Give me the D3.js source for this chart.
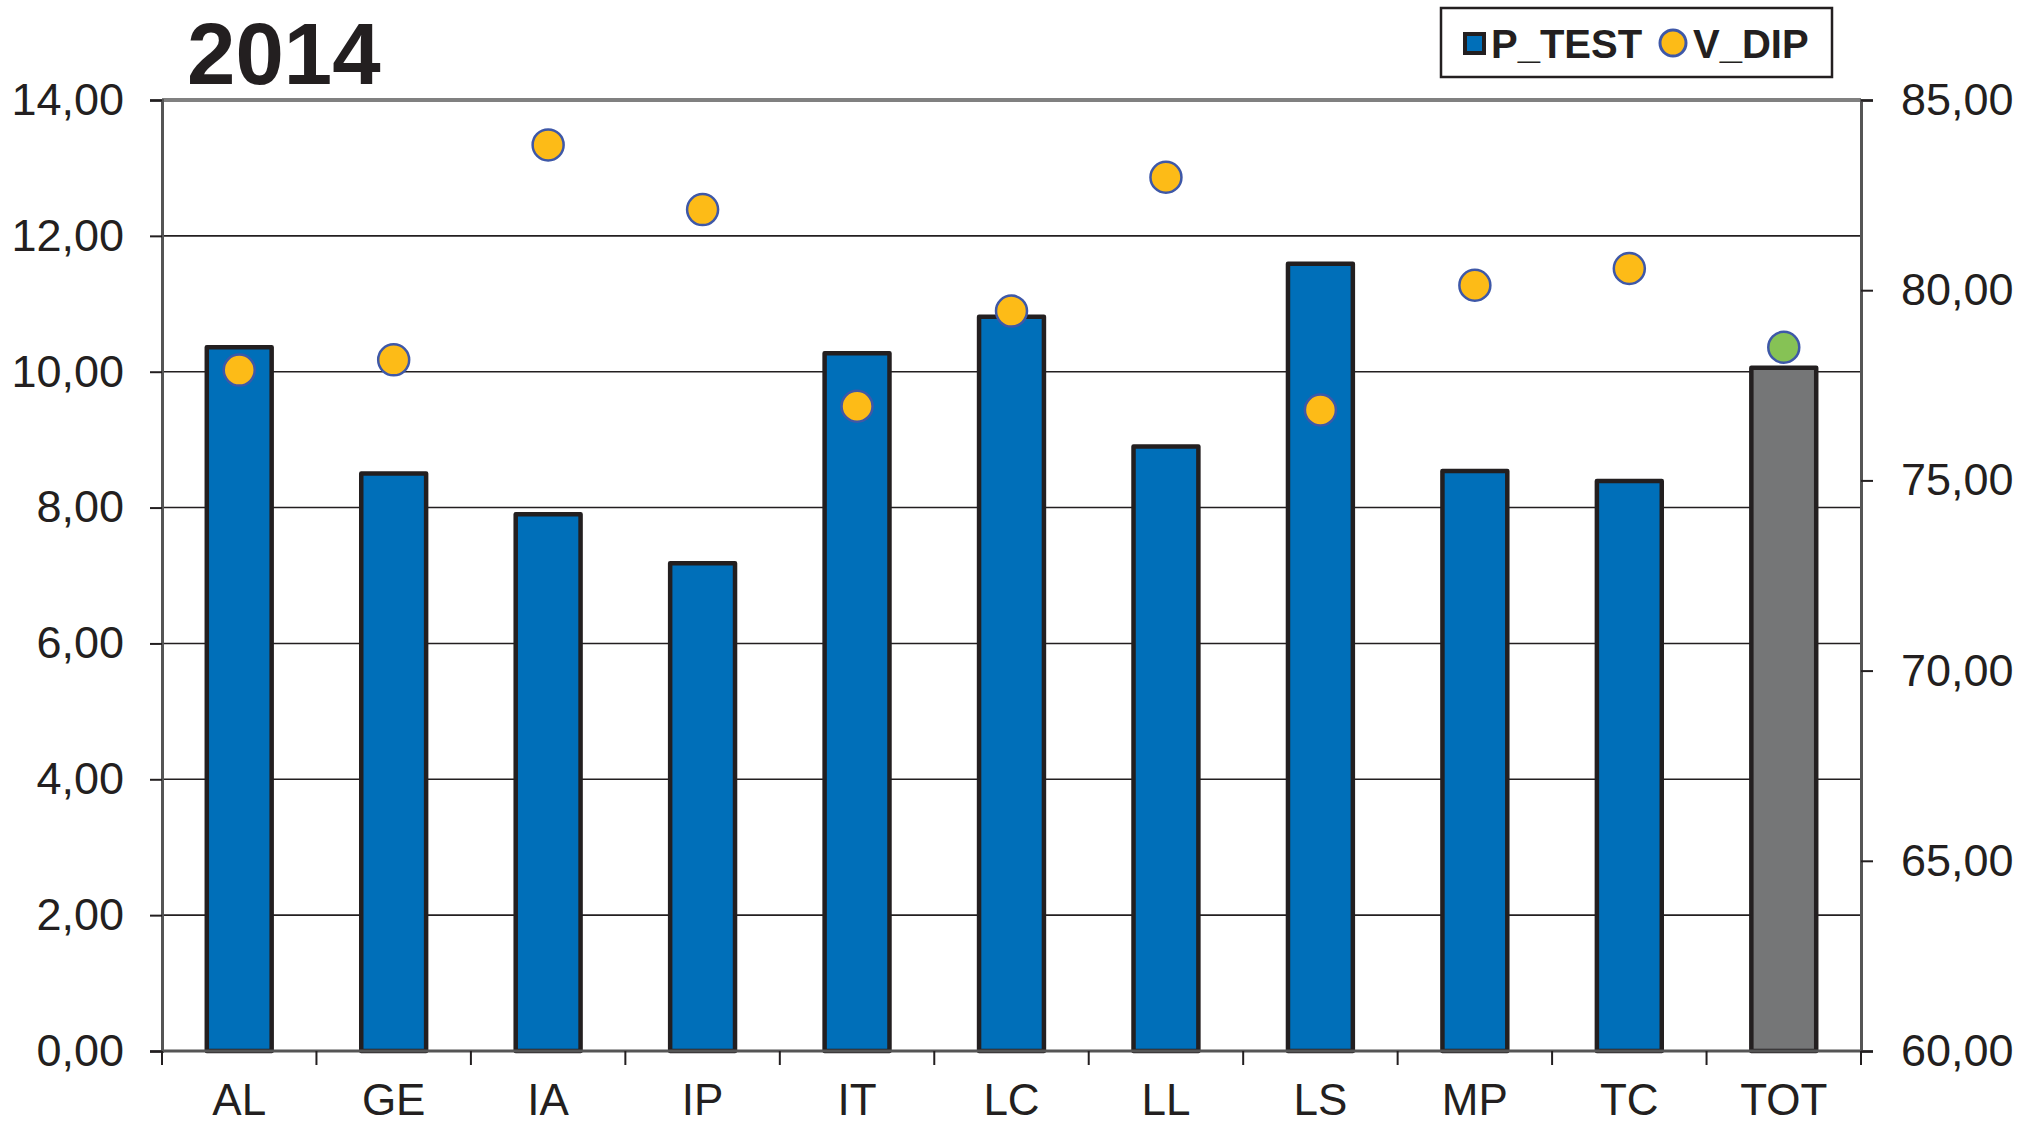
<!DOCTYPE html>
<html>
<head>
<meta charset="utf-8">
<script src="https://cdn.jsdelivr.net/npm/d3@7"></script>
<style>
  body { margin: 0; background: #fff; }
  text { font-family: "Liberation Sans", Arial, sans-serif; fill: #231f20; }
</style>
</head>
<body>
<script>
// chart data
var categories = ["AL", "GE", "IA", "IP", "IT", "LC", "LL", "LS", "MP", "TC", "TOT"];
var p_test = [10.36, 8.50, 7.90, 7.18, 10.27, 10.81, 8.90, 11.59, 8.54, 8.39, 10.06];
var v_dip = [77.90, 78.17, 83.82, 82.12, 76.95, 79.45, 82.97, 76.85, 80.13, 80.57, 78.50];
var leftTicks = [0, 2, 4, 6, 8, 10, 12, 14];
var rightTicks = [60, 65, 70, 75, 80, 85];
var title = "2014";

var W = 2017, H = 1123;
var margin = { top: 100, right: 156, bottom: 72, left: 162 },
  width = W - margin.left - margin.right,
  height = H - margin.top - margin.bottom;

var fmt = function (d) { return d3.format(".2f")(d).replace(".", ","); };

var x = d3.scaleBand().domain(categories).range([0, width]).paddingInner(0.58).paddingOuter(0.29);
var xb = d3.scaleBand().domain(categories).range([0, width]);
var y = d3.scaleLinear().domain([0, 14]).range([height, 0]);
var y2 = d3.scaleLinear().domain([60, 85]).range([height, 0]);

var svg = d3.select("body").append("svg")
  .attr("width", W).attr("height", H);

svg.append("text")
  .attr("x", 187).attr("y", 84)
  .style("font-size", "87px").style("font-weight", "bold")
  .text(title);

var g = svg.append("g")
  .attr("transform", "translate(" + margin.left + "," + margin.top + ")");

// gridlines
g.selectAll(".grid").data(leftTicks.filter(function (d) { return d > 0 && d < 14; }))
  .enter().append("line")
  .attr("x1", 0).attr("x2", width)
  .attr("y1", function (d) { return y(d); }).attr("y2", function (d) { return y(d); })
  .attr("stroke", "#231f20").attr("stroke-width", 1.6);

// top border
g.append("line").attr("x1", 0).attr("x2", width).attr("y1", 0).attr("y2", 0)
  .attr("stroke", "#808080").attr("stroke-width", 4);

// bars
g.selectAll(".bar").data(categories).enter().append("rect")
  .attr("x", function (d) { return x(d); })
  .attr("width", x.bandwidth())
  .attr("y", function (d, i) { return y(p_test[i]); })
  .attr("height", function (d, i) { return height - y(p_test[i]); })
  .attr("fill", function (d) { return d == "TOT" ? "#757677" : "#006fb9"; })
  .attr("stroke", "#231f20").attr("stroke-width", 4.5)
  .attr("stroke-linejoin", "round");

// left axis
var ly = g.append("g").call(d3.axisLeft(y).tickValues(leftTicks).tickFormat(fmt).tickSize(12).tickPadding(26));
ly.select(".domain").attr("stroke", "#555").attr("stroke-width", 3);
ly.selectAll(".tick line").attr("stroke", "#231f20").attr("stroke-width", 2);
ly.selectAll("text").style("font-size", "45px").attr("fill", "#231f20");

// right axis
var ry = g.append("g").attr("transform", "translate(" + width + ",0)")
  .call(d3.axisRight(y2).tickValues(rightTicks).tickFormat(fmt).tickSize(12).tickPadding(28));
ry.select(".domain").attr("stroke", "#555").attr("stroke-width", 3);
ry.selectAll(".tick line").attr("stroke", "#231f20").attr("stroke-width", 2);
ry.selectAll("text").style("font-size", "45px").attr("fill", "#231f20");

// bottom axis
var bx = g.append("g").attr("transform", "translate(0," + height + ")");
bx.append("line").attr("x1", 0).attr("x2", width).attr("y1", 0).attr("y2", 0)
  .attr("stroke", "#555").attr("stroke-width", 3);
bx.selectAll(".xt").data(categories.concat(["_end"])).enter().append("line")
  .attr("x1", function (d, i) { return i * xb.bandwidth(); })
  .attr("x2", function (d, i) { return i * xb.bandwidth(); })
  .attr("y1", 0).attr("y2", 14)
  .attr("stroke", "#231f20").attr("stroke-width", 2);
bx.selectAll(".xl").data(categories).enter().append("text")
  .attr("x", function (d) { return x(d) + x.bandwidth() / 2; })
  .attr("y", 64)
  .attr("text-anchor", "middle")
  .style("font-size", "44px")
  .text(function (d) { return d; });

// points
g.selectAll(".pt").data(categories).enter().append("circle")
  .attr("cx", function (d) { return x(d) + x.bandwidth() / 2; })
  .attr("cy", function (d, i) { return y2(v_dip[i]); })
  .attr("r", 15.5)
  .attr("fill", function (d) { return d == "TOT" ? "#86c255" : "#fdbb17"; })
  .attr("stroke", "#3e58a8").attr("stroke-width", 2.5);

// legend
var lg = svg.append("g").attr("transform", "translate(1441,8)");
lg.append("rect").attr("width", 391).attr("height", 69)
  .attr("fill", "#fff").attr("stroke", "#231f20").attr("stroke-width", 2.5);
lg.append("rect").attr("x", 24).attr("y", 26).attr("width", 19).attr("height", 19)
  .attr("fill", "#006fb9").attr("stroke", "#231f20").attr("stroke-width", 4);
lg.append("text").attr("x", 50).attr("y", 50)
  .style("font-size", "40px").style("font-weight", "bold").text("P_TEST");
lg.append("circle").attr("cx", 232).attr("cy", 35).attr("r", 13)
  .attr("fill", "#fdbb17").attr("stroke", "#3e58a8").attr("stroke-width", 3);
lg.append("text").attr("x", 252).attr("y", 50)
  .style("font-size", "40px").style("font-weight", "bold").text("V_DIP");
</script>
</body>
</html>
